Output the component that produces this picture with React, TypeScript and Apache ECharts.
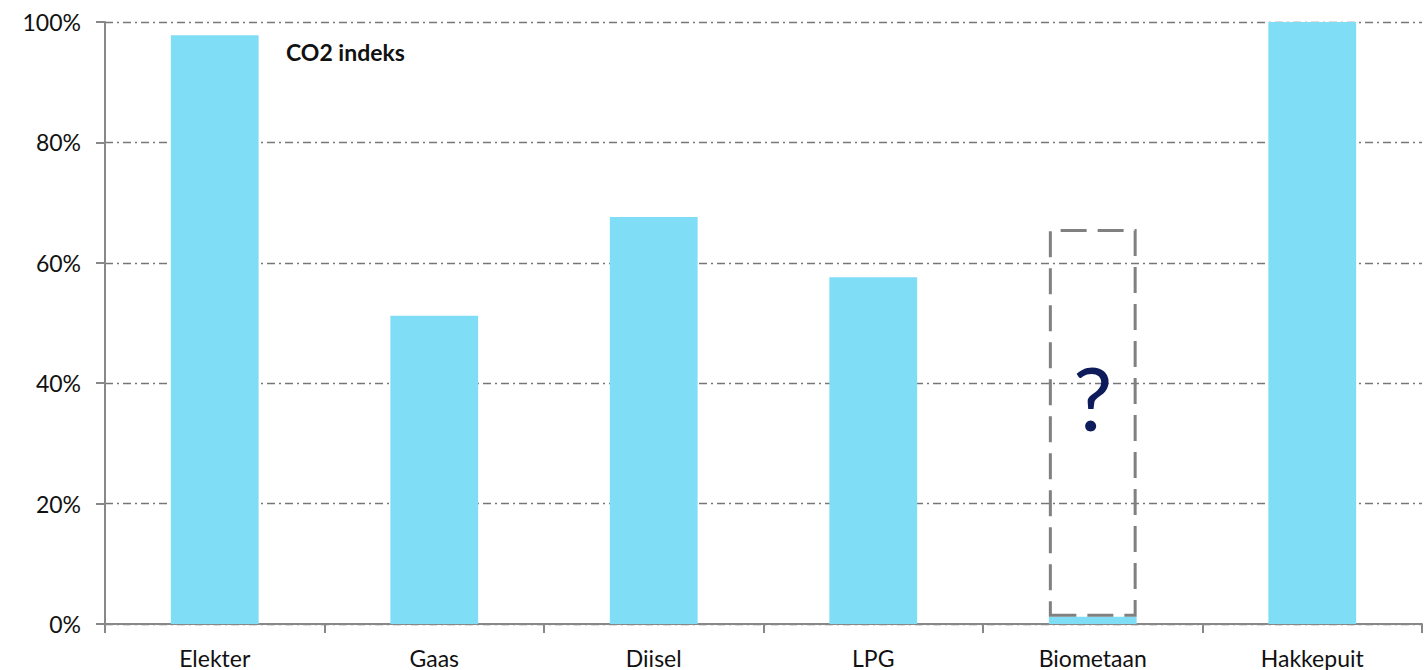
import React, { useEffect, useRef } from "react";
import * as echarts from "echarts";

const categories = ["Elekter", "Gaas", "Diisel", "LPG", "Biometaan", "Hakkepuit"];
const co2Index = [97.8, 51.2, 67.6, 57.6, 1.2, 100];
const unknownTop = [null, null, null, null, 65.6, null];
const yTicks = [0, 20, 40, 60, 80, 100];

export default function App() {
  const ref = useRef<HTMLDivElement>(null);
  useEffect(() => {
    document.body.style.margin = "0";
    if (!ref.current) return;
    const chart = echarts.init(ref.current, undefined, { renderer: "svg" });
    const font = "Lato, 'Open Sans', sans-serif";
    const unknownBase = unknownTop.map((v, i) => (v == null ? null : co2Index[i]));
    const unknownSpan = unknownTop.map((v, i) => (v == null ? null : v - co2Index[i]));
    chart.setOption({
      animation: false,
      title: {
        text: "CO2 indeks",
        left: 281,
        top: 35,
        textStyle: { fontFamily: font, fontSize: 23, fontWeight: "bold", color: "#111" },
      },
      grid: { left: 105, right: 5, top: 22, bottom: 46 },
      xAxis: {
        type: "category",
        data: categories,
        axisLine: { lineStyle: { color: "#888", width: 2 } },
        axisTick: { show: true, length: 9, lineStyle: { color: "#888", width: 2 } },
        axisLabel: { fontFamily: font, fontSize: 23, color: "#111", margin: 22 },
      },
      yAxis: {
        type: "value",
        min: yTicks[0],
        max: yTicks[yTicks.length - 1],
        interval: 20,
        axisLine: { show: true, lineStyle: { color: "#888", width: 2 } },
        axisTick: { show: true, length: 9, lineStyle: { color: "#888", width: 2 } },
        axisLabel: {
          fontFamily: font,
          fontSize: 23,
          color: "#111",
          margin: 24,
          formatter: (v: number) => v + "%",
        },
        splitLine: {
          show: true,
          lineStyle: { color: "#777", width: 1.3, type: [8, 4, 2, 4] },
        },
      },
      series: [
        {
          type: "bar",
          data: co2Index,
          barCategoryGap: "60%",
          itemStyle: { color: "#80DDF6" },
          z: 2,
        },
        {
          type: "bar",
          stack: "unknown",
          data: unknownBase,
          barGap: "-100%",
          itemStyle: { color: "rgba(0,0,0,0)" },
          silent: true,
          z: 1,
        },
        {
          type: "bar",
          stack: "unknown",
          data: unknownSpan,
          barGap: "-100%",
          itemStyle: {
            color: "rgba(0,0,0,0)",
            borderColor: "#808080",
            borderWidth: 3,
            borderType: [26, 11],
          },
          label: {
            show: true,
            position: "inside",
            offset: [0, -26],
            formatter: "?",
            fontFamily: font,
            fontSize: 88,
            color: "#0E1C5C",
          },
          z: 3,
        },
      ],
    });
    return () => chart.dispose();
  }, []);
  return <div ref={ref} style={{ width: 1427, height: 670 }} />;
}
